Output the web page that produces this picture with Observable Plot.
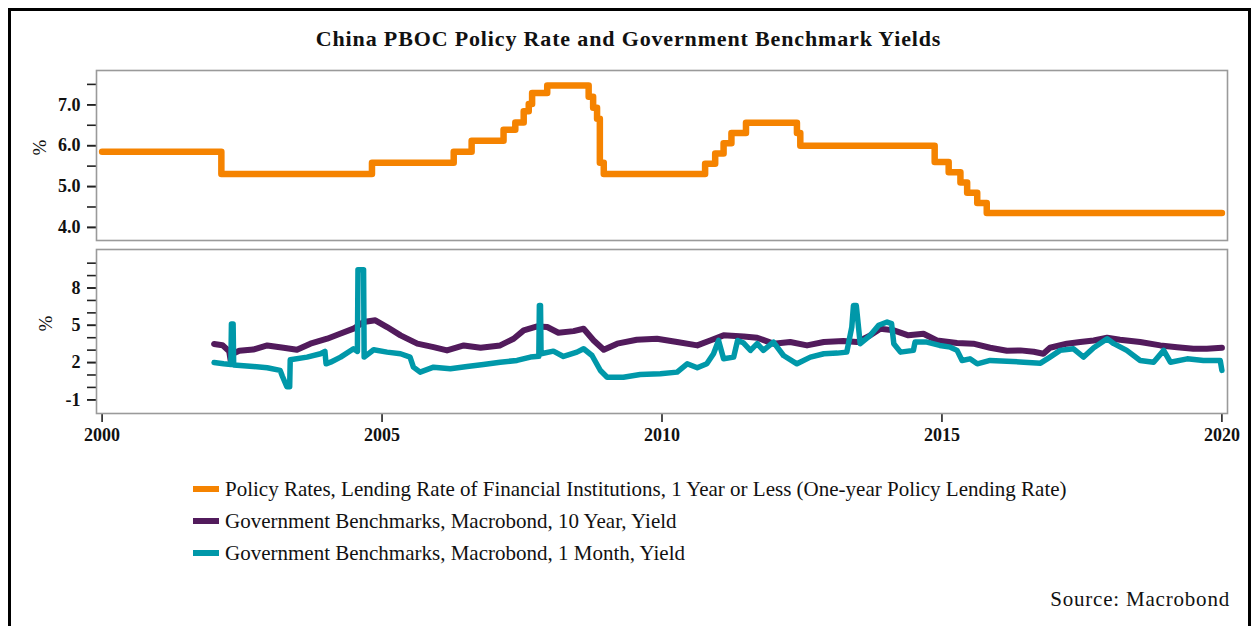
<!DOCTYPE html>
<html><head><meta charset="utf-8">
<script src="https://cdn.jsdelivr.net/npm/d3@7"></script>
<script src="https://cdn.jsdelivr.net/npm/@observablehq/plot@0.6"></script>
<style>
body{margin:0;background:#fff;font-family:"Liberation Serif",serif;}
#page{position:relative;width:1254px;height:626px;overflow:hidden;background:#fff;}
#box{position:absolute;left:8px;top:8px;width:1237px;height:700px;border:3px solid #000;}
#title{position:absolute;left:0;width:1257px;top:26px;text-align:center;font-weight:bold;font-size:22px;letter-spacing:0.85px;color:#111;}
.chart{position:absolute;left:0;}
.leg{position:absolute;left:193px;font-size:21px;color:#111;white-space:nowrap;line-height:24px;}
.sw{display:inline-block;width:26px;height:6px;margin-right:6px;vertical-align:middle;position:relative;top:-2px;}
#source{position:absolute;right:24px;top:587px;font-size:21px;letter-spacing:0.8px;color:#111;}
</style></head>
<body><div id="page">
<div id="box"></div>
<div id="title">China PBOC Policy Rate and Government Benchmark Yields</div>
<div id="top" class="chart" style="top:60px"></div>
<div id="bottom" class="chart" style="top:244px"></div>
<div id="legend"></div>
<div id="source">Source: Macrobond</div>
</div>
<script>
// ---- Data (decimal years) ----
const seriesNames = [
  "Policy Rates, Lending Rate of Financial Institutions, 1 Year or Less (One-year Policy Lending Rate)",
  "Government Benchmarks, Macrobond, 10 Year, Yield",
  "Government Benchmarks, Macrobond, 1 Month, Yield"
];
const seriesColors = ["#f58300", "#521b5c", "#0098a9"];

const policyYear = [2000.0, 2002.13, 2004.82, 2006.28, 2006.6, 2007.17, 2007.38, 2007.53, 2007.62, 2007.68, 2007.95, 2008.69, 2008.77, 2008.84, 2008.89, 2008.96, 2010.77, 2010.95, 2011.1, 2011.24, 2011.5, 2012.41, 2012.47, 2014.87, 2015.12, 2015.33, 2015.45, 2015.63, 2015.8, 2020.0];
const policyRate = [5.85, 5.31, 5.58, 5.85, 6.12, 6.39, 6.57, 6.84, 7.02, 7.29, 7.47, 7.20, 6.93, 6.66, 5.58, 5.31, 5.56, 5.81, 6.06, 6.31, 6.56, 6.31, 6.00, 5.60, 5.35, 5.10, 4.85, 4.60, 4.35, 4.35];

const tenYearYear = [2002.0, 2002.15, 2002.27, 2002.3, 2002.33, 2002.45, 2002.7, 2002.95, 2003.24, 2003.48, 2003.72, 2004.02, 2004.25, 2004.49, 2004.67, 2004.88, 2005.09, 2005.33, 2005.63, 2005.92, 2006.16, 2006.46, 2006.76, 2007.11, 2007.35, 2007.53, 2007.77, 2007.95, 2008.15, 2008.42, 2008.6, 2008.78, 2008.96, 2009.2, 2009.55, 2009.91, 2010.27, 2010.63, 2010.86, 2011.1, 2011.46, 2011.7, 2011.99, 2012.29, 2012.59, 2012.89, 2013.24, 2013.48, 2013.72, 2013.9, 2014.14, 2014.4, 2014.67, 2014.91, 2015.27, 2015.56, 2015.86, 2016.16, 2016.4, 2016.64, 2016.81, 2016.93, 2017.23, 2017.47, 2017.71, 2017.95, 2018.18, 2018.54, 2018.9, 2019.2, 2019.49, 2019.73, 2020.0];
const tenYearYield = [3.5, 3.4, 2.9, 2.05, 2.7, 2.95, 3.05, 3.38, 3.19, 3.03, 3.52, 3.92, 4.32, 4.73, 5.26, 5.4, 4.86, 4.19, 3.52, 3.24, 2.98, 3.38, 3.19, 3.38, 3.92, 4.59, 4.91, 4.86, 4.4, 4.53, 4.72, 3.78, 3.03, 3.52, 3.84, 3.92, 3.65, 3.38, 3.78, 4.19, 4.1, 4.0, 3.52, 3.65, 3.38, 3.65, 3.73, 3.65, 4.19, 4.72, 4.59, 4.19, 4.32, 3.78, 3.57, 3.52, 3.19, 2.95, 2.98, 2.87, 2.71, 3.19, 3.52, 3.65, 3.78, 4.0, 3.84, 3.65, 3.38, 3.24, 3.11, 3.11, 3.19];

const oneMonthYear = [2002.0, 2002.17, 2002.3, 2002.31, 2002.34, 2002.35, 2002.7, 2002.95, 2003.18, 2003.22, 2003.3, 2003.35, 2003.36, 2003.66, 2003.9, 2003.98, 2004.0, 2004.08, 2004.26, 2004.49, 2004.56, 2004.57, 2004.67, 2004.68, 2004.85, 2005.09, 2005.33, 2005.5, 2005.56, 2005.68, 2005.92, 2006.22, 2006.52, 2006.81, 2007.11, 2007.41, 2007.65, 2007.8, 2007.81, 2007.83, 2007.84, 2008.06, 2008.24, 2008.48, 2008.6, 2008.75, 2008.9, 2009.02, 2009.31, 2009.61, 2009.97, 2010.27, 2010.45, 2010.63, 2010.8, 2010.92, 2011.01, 2011.1, 2011.28, 2011.35, 2011.45, 2011.58, 2011.7, 2011.81, 2011.99, 2012.17, 2012.41, 2012.65, 2012.89, 2013.13, 2013.3, 2013.39, 2013.42, 2013.47, 2013.54, 2013.72, 2013.87, 2014.02, 2014.1, 2014.14, 2014.26, 2014.49, 2014.52, 2014.73, 2014.96, 2015.15, 2015.27, 2015.36, 2015.5, 2015.63, 2015.86, 2016.16, 2016.46, 2016.76, 2016.93, 2017.11, 2017.35, 2017.53, 2017.71, 2017.95, 2018.07, 2018.3, 2018.54, 2018.78, 2018.96, 2019.08, 2019.38, 2019.67, 2019.97, 2020.0];
const oneMonthYield = [2.0, 1.9, 1.85, 5.1, 5.1, 1.8, 1.69, 1.58, 1.37, 0.9, 0.05, 0.05, 2.22, 2.44, 2.71, 2.9, 1.9, 2.03, 2.44, 3.11, 2.9, 9.48, 9.48, 2.44, 3.03, 2.84, 2.71, 2.44, 1.63, 1.23, 1.63, 1.5, 1.69, 1.85, 2.03, 2.17, 2.44, 2.5, 6.6, 6.6, 2.71, 2.92, 2.49, 2.84, 3.11, 2.57, 1.36, 0.82, 0.82, 1.04, 1.1, 1.23, 1.9, 1.58, 1.9, 2.71, 3.78, 2.3, 2.44, 3.78, 3.6, 2.98, 3.52, 2.98, 3.65, 2.57, 1.9, 2.44, 2.71, 2.76, 2.84, 4.86, 6.6, 6.6, 3.52, 4.19, 5.0, 5.26, 5.13, 3.52, 2.84, 2.98, 3.65, 3.65, 3.38, 3.24, 2.98, 2.17, 2.3, 1.9, 2.17, 2.11, 2.03, 1.95, 2.44, 2.98, 3.11, 2.44, 3.19, 3.92, 3.52, 2.98, 2.17, 2.03, 2.98, 2.03, 2.3, 2.17, 2.17, 1.37];

const xTicks = [2000, 2005, 2010, 2015, 2020];
const topTicks = [4.0, 5.0, 6.0, 7.0];
const topMinor = [3.5, 4.0, 4.5, 5.0, 5.5, 6.0, 6.5, 7.0, 7.5];
const bottomTicks = [-1, 2, 5, 8];
const bottomMinor = [-1, 0, 1, 2, 3, 4, 5, 6, 7, 8, 9, 10];

// ---- Build tables ----
const policy = policyYear.map((x, i) => ({x, y: policyRate[i]}));
const tenY = tenYearYear.map((x, i) => ({x, y: tenYearYield[i]}));
const oneM = oneMonthYear.map((x, i) => ({x, y: oneMonthYield[i]}));

const xDomain = [1999.9, 2020.1];
const common = {
  width: 1254, marginLeft: 96, marginRight: 27,
  style: {fontFamily: "Liberation Serif, serif", fontSize: "18px", fontWeight: "bold", color: "#111", background: "transparent"}
};
const tickStyle = {tickSize: 9, stroke: "#222", strokeWidth: 1.6};
const labelStyle = {fontSize: 18, fontWeight: "bold", fill: "#111"};

const topPlot = Plot.plot({
  ...common, height: 185, marginTop: 10, marginBottom: 5,
  x: {domain: xDomain, axis: null},
  y: {domain: [3.68, 7.84], axis: null},
  marks: [
    Plot.axisY(topMinor, {...tickStyle, tickFormat: () => "", label: null}),
    Plot.axisY(topTicks, {...tickStyle, ...labelStyle, tickPadding: 7, tickFormat: d => d.toFixed(1), label: null}),
    Plot.text(["%"], {frameAnchor: "left", dx: -57, rotate: -90, fontSize: 19, fontWeight: "normal", fill: "#111"}),
    Plot.line(policy, {x: "x", y: "y", curve: "step-after", stroke: seriesColors[0], strokeWidth: 6.5}),
    Plot.frame({stroke: "#9a9a9a", strokeWidth: 1.6})
  ]
});
document.getElementById("top").appendChild(topPlot);

const bottomPlot = Plot.plot({
  ...common, height: 209, marginTop: 5, marginBottom: 40,
  x: {domain: xDomain, axis: null},
  y: {domain: [-2.1, 11.1], axis: null},
  marks: [
    Plot.axisY(bottomMinor, {...tickStyle, tickFormat: () => "", label: null}),
    Plot.axisY(bottomTicks, {...tickStyle, ...labelStyle, tickPadding: 7, tickFormat: d => String(d), label: null}),
    Plot.text(["%"], {frameAnchor: "left", dx: -51, rotate: -90, fontSize: 19, fontWeight: "normal", fill: "#111"}),
    Plot.axisX(xTicks, {...tickStyle, ...labelStyle, tickPadding: 6, tickFormat: d => String(d), label: null}),
    Plot.line(tenY, {x: "x", y: "y", stroke: seriesColors[1], strokeWidth: 6}),
    Plot.line(oneM, {x: "x", y: "y", stroke: seriesColors[2], strokeWidth: 5.5}),
    Plot.frame({stroke: "#9a9a9a", strokeWidth: 1.6})
  ]
});
document.getElementById("bottom").appendChild(bottomPlot);

// ---- Legend ----
const legend = document.getElementById("legend");
const rowTops = [477, 509, 541];
seriesNames.forEach((name, i) => {
  const row = document.createElement("div");
  row.className = "leg";
  row.style.top = rowTops[i] + "px";
  const sw = document.createElement("span");
  sw.className = "sw";
  sw.style.background = seriesColors[i];
  row.appendChild(sw);
  row.appendChild(document.createTextNode(name));
  legend.appendChild(row);
});
</script>
</body></html>
